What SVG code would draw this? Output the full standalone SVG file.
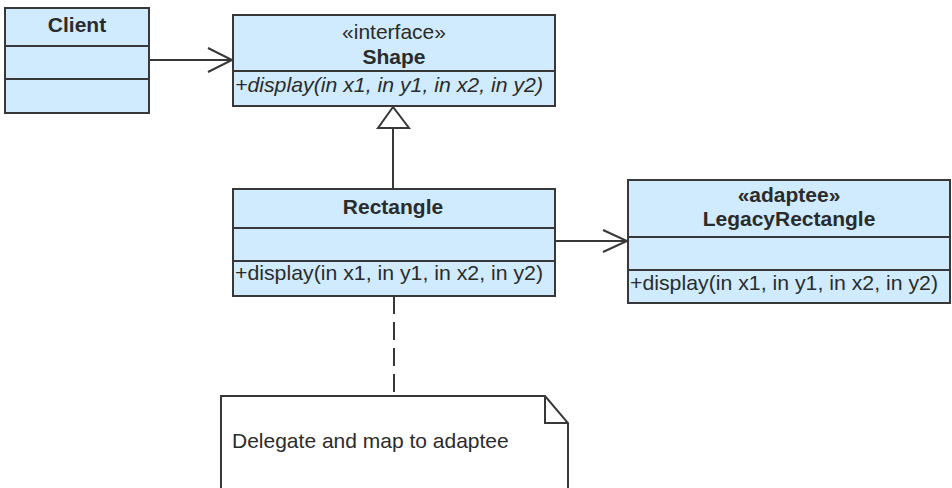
<svg xmlns="http://www.w3.org/2000/svg" width="952" height="488" viewBox="0 0 952 488">
<style>
.box{fill:#CFEBFD;stroke:#383838;stroke-width:2}
.div{stroke:#383838;stroke-width:2}
.t{font-family:"Liberation Sans",Arial,sans-serif;font-size:21px;fill:#2b2b2b}
.b{font-weight:bold}
.i{font-style:italic}
.c{text-anchor:middle}
.ln{stroke:#383838;stroke-width:2;fill:none}
</style>
<rect width="952" height="488" fill="#ffffff"/>
<g id="Client">
<rect class="box" x="5" y="8" width="144" height="105"/>
<line class="div" x1="5" y1="46" x2="149" y2="46"/>
<line class="div" x1="5" y1="79" x2="149" y2="79"/>
<text class="t b c" x="77" y="32">Client</text>
</g>
<g id="Shape">
<rect class="box" x="233" y="15" width="322" height="91"/>
<line class="div" x1="233" y1="71" x2="555" y2="71"/>
<text class="t c" x="394" y="39">«interface»</text>
<text class="t b c" x="394" y="64">Shape</text>
<text class="t i" x="235" y="92" textLength="308" lengthAdjust="spacingAndGlyphs">+display(in x1, in y1, in x2, in y2)</text>
</g>
<g id="Rectangle">
<rect class="box" x="233" y="189" width="322" height="107"/>
<line class="div" x1="233" y1="228" x2="555" y2="228"/>
<line class="div" x1="233" y1="261" x2="555" y2="261"/>
<text class="t b c" x="393" y="214">Rectangle</text>
<text class="t" x="235" y="280" textLength="308" lengthAdjust="spacingAndGlyphs">+display(in x1, in y1, in x2, in y2)</text>
</g>
<g id="LegacyRectangle">
<rect class="box" x="628" y="180" width="322" height="123"/>
<line class="div" x1="628" y1="237" x2="950" y2="237"/>
<line class="div" x1="628" y1="270" x2="950" y2="270"/>
<text class="t b c" x="789" y="202">«adaptee»</text>
<text class="t b c" x="789" y="226">LegacyRectangle</text>
<text class="t" x="630" y="290" textLength="308" lengthAdjust="spacingAndGlyphs">+display(in x1, in y1, in x2, in y2)</text>
</g>
<g id="Note">
<path d="M221,488 L221,396 L545,396 L568,423 L568,488" fill="#ffffff" stroke="#383838" stroke-width="2"/>
<path d="M545,396 L545,423 L568,423" fill="none" stroke="#383838" stroke-width="2"/>
<text class="t" x="232" y="448">Delegate and map to adaptee</text>
</g>
<g id="connectors">
<line class="ln" x1="149" y1="60" x2="232" y2="60"/>
<polyline class="ln" points="208,48 232,60 208,72"/>
<line class="ln" x1="555" y1="241" x2="627" y2="241"/>
<polyline class="ln" points="603,230 627,241 603,252"/>
<line class="ln" x1="393" y1="189" x2="393" y2="128"/>
<polygon points="393,107 378,128 409,128" fill="#ffffff" stroke="#383838" stroke-width="2"/>
<line class="ln" x1="394" y1="296" x2="394" y2="396" stroke-dasharray="18,8"/>
</g>
</svg>
